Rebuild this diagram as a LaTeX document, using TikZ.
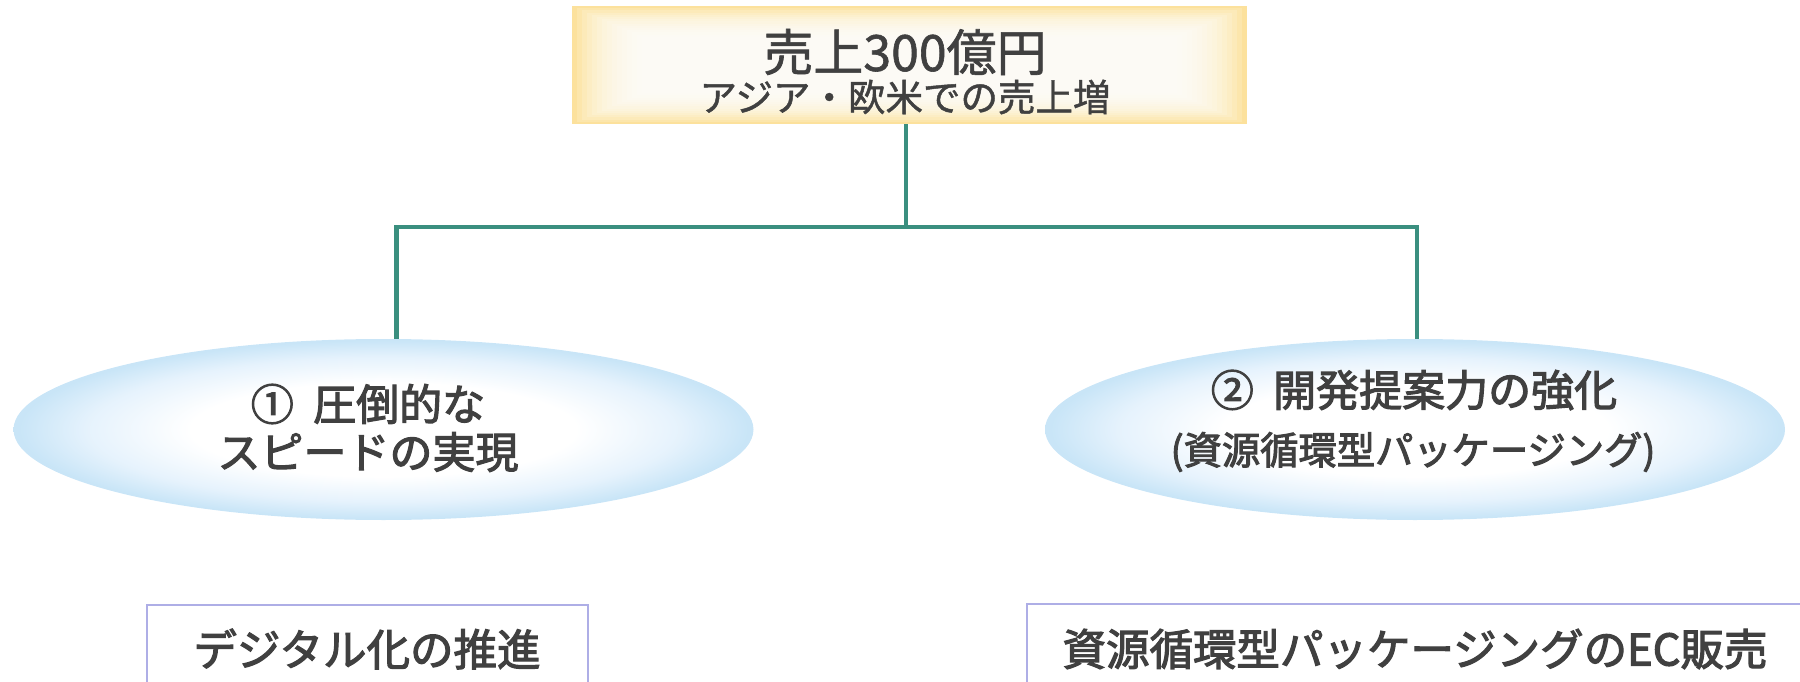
\documentclass[tikz,border=0pt]{standalone}
\usepackage{fontspec}
\setmainfont{Noto Sans CJK JP}
\newfontfamily\jpm{Noto Sans CJK JP}[FakeBold=1.2]
\newfontfamily\jpb{Noto Sans CJK JP}[FakeBold=2.6]
\usetikzlibrary{shapes.geometric}
\definecolor{txt}{HTML}{404040}
\definecolor{goldc}{HTML}{FCE19C}
\definecolor{conncol}{HTML}{3A8F7F}
\definecolor{boxline}{HTML}{AEAEE6}
\pgfdeclareradialshading{ellglow}{\pgfpoint{0bp}{0bp}}{rgb(0bp)=(1,1,1); rgb(13bp)=(1,1,1); rgb(20bp)=(0.90,0.95,0.99); rgb(24.5bp)=(0.79,0.90,0.97); rgb(50bp)=(0.79,0.90,0.97)}
\tikzset{
  conn/.style={draw=conncol, line width=4.5pt},
  ellnode/.style={ellipse, shading=ellglow, minimum width=740pt, minimum height=181pt, inner sep=0pt},
  lowbox/.style={draw=boxline, line width=2pt, fill=white},
  lbl/.style={text=txt, inner sep=0pt, anchor=center},
}
\begin{document}
\begin{tikzpicture}[x=1pt,y=-1pt]
\useasboundingbox (0,0) rectangle (1800,682);
\clip (0,0) rectangle (1800,682);
% top box with soft gold frame
\fill[goldc] (572,6) rectangle (1247,124);
\foreach \i in {1,...,14}{
  \fill[white, opacity=0.17] (572+\i*5,6+\i*2.2) rectangle (1247-\i*5,124-\i*2.2);
}
\node[minimum width=675pt, minimum height=118pt, inner sep=0pt] (top) at (909.5,65) {};
\node[lbl] (t1) at (905,52) {\jpm\fontsize{50}{50}\selectfont 売上300億円};
\node[lbl] (t2) at (905,97) {\jpm\fontsize{37.5}{37.5}\selectfont アジア・欧米での売上増};
% ellipses
\node[ellnode] (e1) at (383.5,429.5) {};
\node[ellnode] (e2) at (1415,429.5) {};
\node[lbl] (e1a) at (368,404) {\jpb\fontsize{43}{43}\selectfont ①\hspace{0.45em}圧倒的な};
\node[lbl] (e1b) at (368,452) {\jpb\fontsize{43}{43}\selectfont スピードの実現};
\node[lbl] (e2a) at (1414,390) {\jpb\fontsize{43}{43}\selectfont ②\hspace{0.45em}開発提案力の強化};
\node[lbl] (e2b) at (1413,452) {\jpb\fontsize{38.3}{38.3}\selectfont (資源循環型パッケージング)};
% connectors
\coordinate (hub) at (906,227);
\coordinate (a1) at ([xshift=13pt]e1.north);
\coordinate (a2) at ([xshift=2pt]e2.north);
\draw[conn] (top.south -| hub) -- (hub);
\draw[conn] (a1) |- (hub) -| (a2);
% bottom boxes
\draw[lowbox] (147,605) rectangle (588,700);
\draw[lowbox] (1027,604) rectangle (1820,700);
\node[lbl] (b1) at (367,649) {\jpb\fontsize{43.5}{43.5}\selectfont デジタル化の推進};
\node[lbl] (b2) at (1415,649) {\jpb\fontsize{43.5}{43.5}\selectfont 資源循環型パッケージングのEC販売};
\end{tikzpicture}
\end{document}
